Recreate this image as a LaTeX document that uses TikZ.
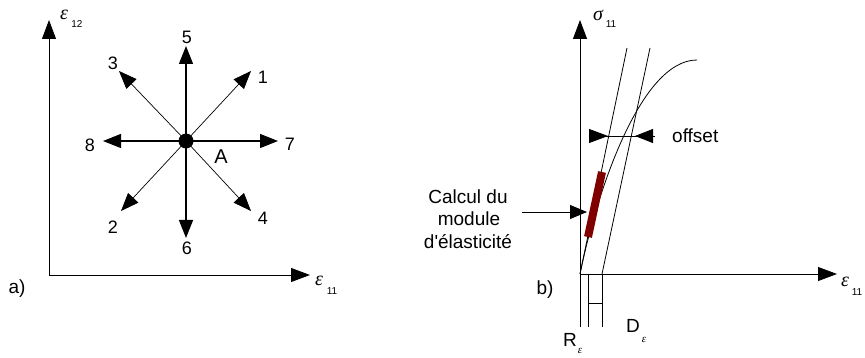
\documentclass[tikz,border=0pt]{standalone}
\usepackage{fontspec}
\setmainfont{Liberation Sans}
\newfontfamily\grk{Liberation Serif}
\usetikzlibrary{arrows.meta}
\definecolor{barred}{RGB}{128,0,0}
\newcommand{\straightquote}{{\XeTeXglyph\XeTeXcharglyph"0027\relax}}
\begin{document}
\begin{tikzpicture}[x=1pt,y=-1pt,
  tip/.style={-{Triangle[length=19pt,width=14pt]}},
  axis/.style={line width=0.9pt,tip},
  main/.style={line width=1.1pt,-{Triangle[length=18pt,width=14pt]}},
  diag/.style={line width=0.7pt,-{Triangle[length=18pt,width=14pt]}},
  thinln/.style={line width=0.8pt},
  lbl/.style={font=\fontsize{18}{20}\selectfont, inner sep=0pt},
  txt/.style={font=\fontsize{19}{22}\selectfont, inner sep=0pt},
  gr/.style={font=\fontsize{20}{22}\selectfont\grk\itshape, inner sep=0pt},
  grs/.style={font=\fontsize{11}{12}\selectfont\grk\itshape, inner sep=0pt},
  sub/.style={font=\fontsize{10}{11}\selectfont, inner sep=0pt}]
\useasboundingbox (0,0) rectangle (865,358);

% ---------------- panel a ----------------
\coordinate (aO) at (49,275);
\coordinate (aY) at (49,20);
\coordinate (aX) at (310,275);
\draw[axis] (aO) -- (aY);
\draw[axis] (aO) -- (aX);
\node[gr] (e12) at (64,15) {ε};
\node[sub] (e12s) at (77,24) {12};
\node[gr] (e11a) at (319,281) {ε};
\node[sub] (e11as) at (332,291) {11};

\node[circle,fill=black,inner sep=0pt,minimum size=15pt] (c) at (186,141) {};
\coordinate (t1) at (251,71);
\coordinate (t2) at (121,211);
\coordinate (t3) at (119,71);
\coordinate (t4) at (251,211);
\coordinate (t5) at (186,46);
\coordinate (t6) at (186,238);
\coordinate (t7) at (278,141);
\coordinate (t8) at (103,141);
\draw[diag] (c.center) -- (t1);
\draw[diag] (c.center) -- (t2);
\draw[diag] (c.center) -- (t3);
\draw[diag] (c.center) -- (t4);
\draw[main] (c.center) -- (t5);
\draw[main] (c.center) -- (t6);
\draw[main] (c.center) -- (t7);
\draw[main] (c.center) -- (t8);
\node[lbl] (l1) at (263,77) {1};
\node[lbl] (l2) at (113,227) {2};
\node[lbl] (l3) at (113,63) {3};
\node[lbl] (l4) at (263,218) {4};
\node[lbl] (l5) at (187,37) {5};
\node[lbl] (l6) at (187,248) {6};
\node[lbl] (l7) at (290,144) {7};
\node[lbl] (l8) at (90,145) {8};
\node[font=\fontsize{20}{22}\selectfont,inner sep=0pt] (lA) at (221,157) {A};
\node[txt] (la) at (17,289) {a)};

% ---------------- panel b ----------------
\coordinate (bO) at (580,274);
\coordinate (bYb) at (580,327);
\coordinate (bY) at (580,20);
\coordinate (bX) at (837,274);
\draw[axis] (bYb) -- (bY);
\draw[axis] (bO) -- (bX);
\node[gr] (sig) at (598,15) {σ};
\node[sub] (sigs) at (611,24) {11};
\node[gr] (e11b) at (845,282) {ε};
\node[sub] (e11bs) at (857,292) {11};

\coordinate (L1a) at (580,274);
\coordinate (L1b) at (627,48);
\coordinate (L2a) at (602,274);
\coordinate (L2b) at (650,48);
\draw[thinln] (L1a) -- (L1b);
\draw[thinln] (L2a) -- (L2b);
\coordinate (cEnd) at (697,60);
\draw[thinln] (bO) .. controls (596,195) and (640,60) .. (cEnd);

\coordinate (R1) at (588,274);
\coordinate (R2) at (588,327);
\coordinate (D1) at (602,274);
\coordinate (D2) at (602,327);
\coordinate (M1) at (588,303);
\coordinate (M2) at (602,303);
\draw[thinln] (R1) -- (R2);
\draw[thinln] (D1) -- (D2);
\draw[thinln] (M1) -- (M2);

\coordinate (barA) at (588,237);
\coordinate (barB) at (602,172);
\draw[line width=8pt,barred] (barA) -- (barB);

% offset
\coordinate (oL) at (589,136);
\coordinate (oLt) at (608,136);
\coordinate (oR) at (655,136);
\coordinate (oRt) at (635,136);
\draw[thinln] (oL) -- (oR);
\draw[thinln,-{Triangle[length=19pt,width=14pt]}] (oL) -- (oLt);
\draw[thinln,-{Triangle[length=18pt,width=14pt]}] (oR) -- (oRt);
\node[txt,anchor=base west] (off) at (672,143) {offset};

% calcul
\node[txt,anchor=base] (cal1) at (468,204) {Calcul du};
\node[txt,anchor=base] (cal2) at (469,226) {module};
\node[txt,anchor=base] (cal3) at (468,248) {d\straightquote élasticité};
\coordinate (cs) at (522,212);
\coordinate (ct) at (587,212);
\draw[thinln,-{Triangle[length=17pt,width=14pt]}] (cs) -- (ct);

\node[txt] (R) at (570,340) {R};
\node[grs] (Rs) at (580,351) {ε};
\node[txt] (D) at (633,326) {D};
\node[grs] (Ds) at (644,340) {ε};
\node[txt] (lb) at (545,290) {b)};
\end{tikzpicture}
\end{document}
